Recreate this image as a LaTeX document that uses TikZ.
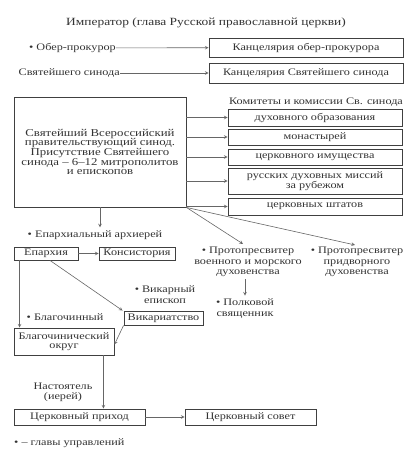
\documentclass[tikz,border=0pt]{standalone}
\usepackage{fontspec}
\setmainfont{Liberation Serif}[FakeStretch=1.22]
\usepackage{tikz}
\usetikzlibrary{arrows, positioning}
\tikzstyle{arrow} = [draw=black!60, line width=0.6pt, ->, >=stealth]
\tikzstyle{rec} = [rectangle, draw=black!75, line width=0.9pt, inner sep=0pt, text centered, text=black!80, font=\fontsize{10}{9.6}\selectfont]
\tikzstyle{lbl} = [inner sep=0pt, align=center, text=black!80]
\newcommand{\hd}{\textbullet\ }

\begin{document}
\begin{tikzpicture}[x=1pt, y=-1pt, font=\fontsize{10}{10.5}\selectfont]
		\useasboundingbox (0,0) rectangle (420,461);
		% top
		\node (imp) [lbl, font=\fontsize{11}{12}\selectfont] at (206,23) {Император (глава Русской православной церкви)};
		\node (oberpr) [lbl, anchor=east] at (116,48) {\hd Обер-прокурор};
		\node (kancOber) [rec, minimum width=194pt, minimum height=19pt] at (306,47.5) {Канцелярия обер-прокурора};
		\node (svSin) [lbl, anchor=east] at (120,73) {Святейшего синода};
		\node (kancSin) [rec, minimum width=194pt, minimum height=20pt] at (306,73) {Канцелярия Святейшего синода};
		\draw [arrow] (oberpr) -- (kancOber);
		\draw [arrow] (svSin) -- (kancSin);
		% synod and committees
		\node (synod) [rec, align=center, minimum width=172pt, minimum height=110pt, font=\fontsize{10.5}{9.7}\selectfont] at (100,152) {Святейший Всероссийский\\правительствующий синод.\\Присутствие Святейшего\\синода -- 6--12 митрополитов\\и епископов};
		\node (komTitle) [lbl] at (316,102) {Комитеты и комиссии Св. синода};
		\node (kom1) [rec, minimum width=174pt, minimum height=17pt] at (315,117.5) {духовного образования};
		\node (kom2) [rec, minimum width=174pt, minimum height=16pt] at (315,137) {монастырей};
		\node (kom3) [rec, minimum width=174pt, minimum height=16pt] at (315,157) {церковного имущества};
		\node (kom4) [rec, align=center, minimum width=174pt, minimum height=26pt] at (315,181) {русских духовных миссий\\за рубежом};
		\node (kom5) [rec, minimum width=174pt, minimum height=17pt] at (315,206.5) {церковных штатов};
		\draw [arrow] (synod.east |- kom1) -- (kom1);
		\draw [arrow] (synod.east |- kom2) -- (kom2);
		\draw [arrow] (synod.east |- kom3) -- (kom3);
		\draw [arrow] (synod.east |- kom4) -- (kom4);
		\draw [arrow] (synod.east |- kom5) -- (kom5);
		% protopresbyters
		\node (protoVoen) [lbl] at (248,262) {\hd Протопресвитер\\военного и морского\\духовенства};
		\node (protoDvor) [lbl] at (357,262) {\hd Протопресвитер\\придворного\\духовенства};
		\node (polk) [lbl] at (245,308.5) {\hd Полковой\\священник};
		\draw [arrow] (synod.south east) -- ([xshift=-5pt, yshift=3pt]protoVoen.north);
		\draw [arrow] (synod.south east) -- ([xshift=-2pt, yshift=2pt]protoDvor.north);
		\draw [arrow] ([yshift=-2pt]protoVoen.south -| polk) -- ([yshift=3pt]polk.north);
		% eparchy
		\node (arhierei) [lbl] at (95,235) {\hd Епархиальный архиерей};
		\draw [arrow] (synod.south) -- ([yshift=3pt]synod.south |- arhierei.north);
		\node (eparh) [rec, minimum width=64pt, minimum height=13pt] at (46,253.5) {Епархия};
		\node (konsist) [rec, minimum width=76pt, minimum height=13pt] at (137,253.5) {Консистория};
		\draw [arrow] (eparh) -- (konsist);
		\node (vikEp) [lbl] at (165,294.5) {\hd Викарный\\епископ};
		\node (vikar) [rec, minimum width=79pt, minimum height=14pt] at (163.5,318) {Викариатство};
		\draw [arrow] ([xshift=4pt]eparh.south) -- ([xshift=-1pt]vikar.north west);
		\node (blagoch) [lbl] at (65,317) {\hd Благочинный};
		\node (blagOkrug) [rec, align=center, minimum width=100pt, minimum height=27pt] at (64,341.5) {Благочинический\\округ};
		\draw [arrow] ([xshift=6pt]eparh.south west) -- ([xshift=6pt]eparh.south west |- blagOkrug.north);
		\draw [arrow] (vikar.south west) -- ([yshift=-3pt]blagOkrug.east);
		% parish
		\node (nastoyat) [lbl] at (63,392.5) {Настоятель\\(иерей)};
		\node (prihod) [rec, minimum width=131pt, minimum height=16pt] at (79.5,417) {Церковный приход};
		\node (sovet) [rec, minimum width=131pt, minimum height=16pt] at (250.5,417) {Церковный совет};
		\draw [arrow] ([xshift=-11pt]blagOkrug.south east) -- ([xshift=-11pt]blagOkrug.south east |- prihod.north);
		\draw [arrow] (prihod) -- (sovet);
		\node (legend) [lbl, anchor=west] at (14,443) {\hd -- главы управлений};
	\end{tikzpicture}
\end{document}
